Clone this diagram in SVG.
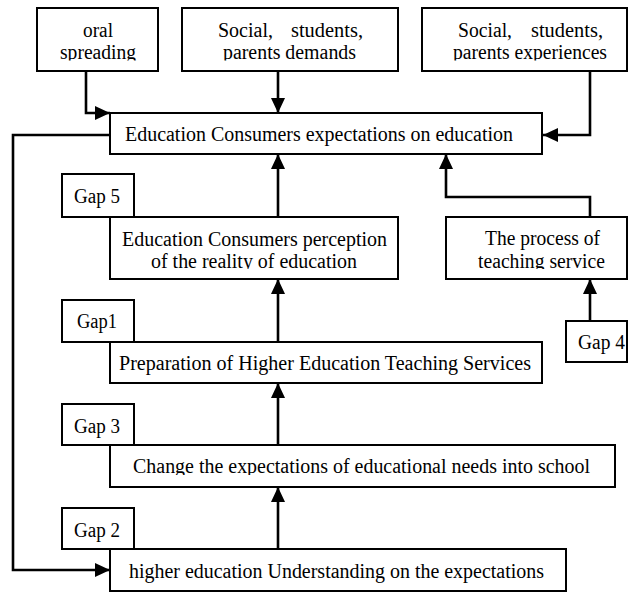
<svg xmlns="http://www.w3.org/2000/svg" width="628" height="592" viewBox="0 0 628 592">
<style>
  .box { fill: #fff; stroke: #000; stroke-width: 2; }
  .t { font-family: "Liberation Serif", "Times New Roman", serif; font-size: 20px; fill: #000; }
  .c { fill: none; stroke: #000; stroke-width: 2.6; }
</style>
<defs>
  <marker id="ah" markerUnits="userSpaceOnUse" markerWidth="15" markerHeight="14" refX="15" refY="7" orient="auto">
    <path d="M0,0 L15,7 L0,14 z" fill="#000"/>
  </marker>
  <clipPath id="clipTop"><rect x="0" y="0" width="628" height="60.5"/></clipPath>
  <clipPath id="clipMid"><rect x="0" y="200" width="628" height="69"/></clipPath>
  <clipPath id="clipChange"><rect x="0" y="440" width="628" height="35"/></clipPath>
</defs>
<rect width="628" height="592" fill="#fff"/>

<g id="connectors">
  <path class="c" d="M86,71 V113 H110" marker-end="url(#ah)"/>
  <path class="c" d="M278,71 V113" marker-end="url(#ah)"/>
  <path class="c" d="M590,71 V135 H543" marker-end="url(#ah)"/>
  <path class="c" d="M278,217 V154" marker-end="url(#ah)"/>
  <path class="c" d="M590,217 V197 H446 V154" marker-end="url(#ah)"/>
  <path class="c" d="M590,321 V279" marker-end="url(#ah)"/>
  <path class="c" d="M278,342 V279" marker-end="url(#ah)"/>
  <path class="c" d="M278,445 V383" marker-end="url(#ah)"/>
  <path class="c" d="M278,549 V487" marker-end="url(#ah)"/>
  <path class="c" d="M110,135 H13 V570 H110" marker-end="url(#ah)"/>
</g>

<g id="oral">
  <rect class="box" x="37" y="8" width="121" height="63"/>
  <g clip-path="url(#clipTop)">
    <text class="t" x="83" y="37" textLength="30" lengthAdjust="spacingAndGlyphs">oral</text>
    <text class="t" x="60" y="59" textLength="76" lengthAdjust="spacingAndGlyphs">spreading</text>
  </g>
</g>

<g id="demands">
  <rect class="box" x="182" y="8" width="216" height="63"/>
  <g clip-path="url(#clipTop)">
    <text class="t" x="218" y="37" textLength="55" lengthAdjust="spacingAndGlyphs">Social,</text>
    <text class="t" x="291" y="37" textLength="72" lengthAdjust="spacingAndGlyphs">students,</text>
    <text class="t" x="223" y="59" textLength="133" lengthAdjust="spacingAndGlyphs">parents demands</text>
  </g>
</g>

<g id="experiences">
  <rect class="box" x="422" y="8" width="205" height="63"/>
  <g clip-path="url(#clipTop)">
    <text class="t" x="458" y="37" textLength="54" lengthAdjust="spacingAndGlyphs">Social,</text>
    <text class="t" x="531" y="37" textLength="72" lengthAdjust="spacingAndGlyphs">students,</text>
    <text class="t" x="453" y="59" textLength="154" lengthAdjust="spacingAndGlyphs">parents experiences</text>
  </g>
</g>

<g id="expectations">
  <rect class="box" x="110" y="113" width="432" height="41"/>
  <text class="t" x="125" y="141" textLength="388" lengthAdjust="spacingAndGlyphs">Education Consumers expectations on education</text>
</g>

<g id="gap5">
  <rect class="box" x="62" y="174" width="72" height="43"/>
  <text class="t" x="74" y="203" textLength="46" lengthAdjust="spacingAndGlyphs">Gap 5</text>
</g>

<g id="perception">
  <rect class="box" x="110" y="217" width="288" height="62"/>
  <g clip-path="url(#clipMid)">
    <text class="t" x="122" y="246" textLength="265" lengthAdjust="spacingAndGlyphs">Education Consumers perception</text>
    <text class="t" x="151" y="268" textLength="206" lengthAdjust="spacingAndGlyphs">of the reality of education</text>
  </g>
</g>

<g id="process">
  <rect class="box" x="446" y="217" width="181" height="62"/>
  <g clip-path="url(#clipMid)">
    <text class="t" x="485" y="245" textLength="115" lengthAdjust="spacingAndGlyphs">The process of</text>
    <text class="t" x="478" y="268" textLength="127" lengthAdjust="spacingAndGlyphs">teaching service</text>
  </g>
</g>

<g id="gap4">
  <rect class="box" x="566" y="321" width="61" height="41"/>
  <text class="t" x="578" y="349" textLength="47" lengthAdjust="spacingAndGlyphs">Gap 4</text>
</g>

<g id="gap1">
  <rect class="box" x="62" y="300" width="72" height="42"/>
  <text class="t" x="77" y="328" textLength="40" lengthAdjust="spacingAndGlyphs">Gap1</text>
</g>

<g id="preparation">
  <rect class="box" x="110" y="342" width="432" height="41"/>
  <text class="t" x="119" y="370" textLength="412" lengthAdjust="spacingAndGlyphs">Preparation of Higher Education Teaching Services</text>
</g>

<g id="gap3">
  <rect class="box" x="62" y="404" width="72" height="41"/>
  <text class="t" x="74" y="433" textLength="46" lengthAdjust="spacingAndGlyphs">Gap 3</text>
</g>

<g id="change">
  <rect class="box" x="110" y="445" width="505" height="42"/>
  <g clip-path="url(#clipChange)">
    <text class="t" x="133" y="473" textLength="457" lengthAdjust="spacingAndGlyphs">Change the expectations of educational needs into school</text>
  </g>
</g>

<g id="gap2">
  <rect class="box" x="62" y="508" width="72" height="41"/>
  <text class="t" x="74" y="537" textLength="46" lengthAdjust="spacingAndGlyphs">Gap 2</text>
</g>

<g id="understanding">
  <rect class="box" x="110" y="549" width="456" height="42"/>
  <text class="t" x="129" y="578" textLength="415" lengthAdjust="spacingAndGlyphs">higher education Understanding on the expectations</text>
</g>
</svg>
